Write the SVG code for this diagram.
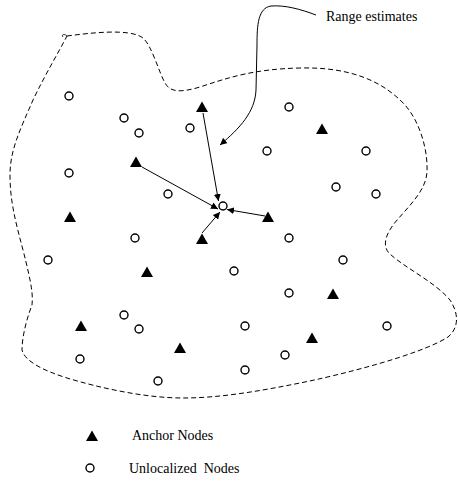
<svg xmlns="http://www.w3.org/2000/svg" width="458" height="481" viewBox="0 0 458 481">
<style>
.u{fill:#fff;stroke:#000;stroke-width:1.4}
.a{fill:#000}
.t{font-family:"Liberation Serif",serif;font-size:14px;fill:#000;white-space:pre}
.c{stroke:#000;stroke-width:1;fill:none}
</style>
<defs>
<marker id="ah" viewBox="0 0 10 10" refX="10" refY="5" markerWidth="7" markerHeight="7" orient="auto" markerUnits="userSpaceOnUse"><path d="M0,0L10,5L0,10z" fill="#000"/></marker>
<path id="tri" d="M0,-5.5L6,5L-6,5z"/>
</defs>
<rect width="458" height="481" fill="#fff"/>
<g id="boundary">
<path d="M67,36 C90,33 130,28 143,38 C152,46 158,70 165,83 C170,92 180,93 200,87 C230,77 255,69 300,68 C345,67 380,78 405,105 C420,122 428,150 427,172 C426,190 410,205 398,219 C388,230 380,245 390,254 C405,268 435,282 450,300 C458,312 460,327 448,337 C420,355 340,375 300,383 C260,391 220,398 183,398 C145,398 100,388 67,378 C45,371 25,362 22,350 C22,335 28,315 32,305 C33,295 32,285 23,250 C15,220 10,200 10,175 C10,150 20,130 33,100 C45,75 57,55 67,36" fill="none" stroke="#000" stroke-width="1" stroke-dasharray="5,3"/>
<path d="M67,36 C64,33 61,35 63,37" fill="none" stroke="#000" stroke-width="0.8"/>
</g>
<g id="connectors">
<line class="c" x1="203" y1="113" x2="218.5" y2="201" marker-end="url(#ah)"/>
<line class="c" x1="142" y1="167" x2="218" y2="209" marker-end="url(#ah)"/>
<line class="c" x1="265" y1="216" x2="227" y2="209.5" marker-end="url(#ah)"/>
<line class="c" x1="202" y1="233" x2="220" y2="212" marker-end="url(#ah)"/>
<path class="c" d="M316,15 C300,9 285,5 271,6 C258,8 257,25 257,45 L256,90 C255,112 240,128 220,145" marker-end="url(#ah)"/>
</g>
<g id="anchors">
<use href="#tri" class="a" x="202" y="107"/>
<use href="#tri" class="a" x="322" y="129"/>
<use href="#tri" class="a" x="136" y="162"/>
<use href="#tri" class="a" x="70" y="217"/>
<use href="#tri" class="a" x="268" y="217"/>
<use href="#tri" class="a" x="202" y="239"/>
<use href="#tri" class="a" x="147" y="272"/>
<use href="#tri" class="a" x="333" y="294"/>
<use href="#tri" class="a" x="81" y="326"/>
<use href="#tri" class="a" x="180" y="348"/>
<use href="#tri" class="a" x="312" y="338"/>
</g>
<g id="unlocalized">
<circle class="u" cx="69" cy="96" r="4"/>
<circle class="u" cx="124" cy="118" r="4"/>
<circle class="u" cx="139" cy="133" r="4"/>
<circle class="u" cx="190" cy="128" r="4"/>
<circle class="u" cx="289" cy="107" r="4"/>
<circle class="u" cx="267" cy="151" r="4"/>
<circle class="u" cx="366" cy="151" r="4"/>
<circle class="u" cx="69" cy="173" r="4"/>
<circle class="u" cx="168" cy="194" r="4"/>
<circle class="u" cx="336" cy="187" r="4"/>
<circle class="u" cx="376" cy="194" r="4"/>
<circle class="u" cx="223" cy="206" r="4"/>
<circle class="u" cx="135" cy="238" r="4"/>
<circle class="u" cx="289" cy="238" r="4"/>
<circle class="u" cx="48" cy="260" r="4"/>
<circle class="u" cx="343" cy="260" r="4"/>
<circle class="u" cx="234" cy="271" r="4"/>
<circle class="u" cx="289" cy="293" r="4"/>
<circle class="u" cx="124" cy="315" r="4"/>
<circle class="u" cx="139" cy="329" r="4"/>
<circle class="u" cx="245" cy="326" r="4"/>
<circle class="u" cx="387" cy="326" r="4"/>
<circle class="u" cx="80" cy="359" r="4"/>
<circle class="u" cx="285" cy="355" r="4"/>
<circle class="u" cx="245" cy="370" r="4"/>
<circle class="u" cx="158" cy="381" r="4"/>
</g>
<g id="label-range">
<text class="t" x="326" y="21">Range estimates</text>
</g>
<g id="legend">
<use href="#tri" class="a" x="92" y="436"/>
<text class="t" x="132" y="440">Anchor Nodes</text>
<circle class="u" cx="90" cy="468" r="4"/>
<text class="t" x="129" y="473">Unlocalized  Nodes</text>
</g>
</svg>
